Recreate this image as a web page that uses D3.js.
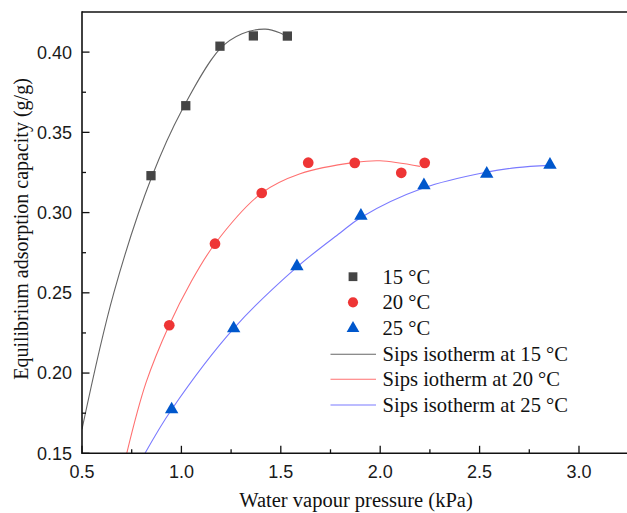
<!DOCTYPE html>
<html>
<head>
<meta charset="utf-8">
<script src="https://cdn.jsdelivr.net/npm/d3@7/dist/d3.min.js"></script>
<style>
  html, body { margin: 0; padding: 0; background: #fff; }
  svg { display: block; }
</style>
</head>
<body>
<svg id="chart" width="627" height="513"></svg>
<script>
// Measured uptake (x: kPa, y: g/g)
const pressure15 = [0.847, 1.022, 1.194, 1.362, 1.533];
const uptake15   = [0.323, 0.3666, 0.4037, 0.4101, 0.410];
const pressure20 = [0.939, 1.169, 1.404, 1.638, 1.872, 2.106, 2.224];
const uptake20   = [0.2298, 0.2806, 0.3122, 0.3311, 0.331, 0.3248, 0.331];
const pressure25 = [0.951, 1.263, 1.581, 1.903, 2.22, 2.536, 2.854];
const uptake25   = [0.1773, 0.2278, 0.2665, 0.298, 0.317, 0.3242, 0.3298];

// Fitted Sips curves, sampled along each line
const fitP15 = [0.5, 0.66, 0.852, 1.003, 1.194, 1.305, 1.422, 1.5, 1.548];
const fitQ15 = [0.165, 0.25, 0.3226, 0.364, 0.402, 0.4114, 0.4143, 0.4118, 0.4087];
const fitP20 = [0.725, 0.822, 0.939, 1.045, 1.169, 1.404, 1.597, 1.873, 1.999, 2.2];
const fitQ20 = [0.15, 0.194, 0.23, 0.256, 0.2806, 0.3122, 0.3242, 0.3313, 0.3323, 0.3288];
const fitP25 = [0.817, 0.951, 1.265, 1.581, 1.798, 1.903, 2.217, 2.536, 2.686, 2.853];
const fitQ25 = [0.15, 0.1773, 0.228, 0.266, 0.2873, 0.297, 0.3153, 0.3252, 0.328, 0.3294];

const xTicks = [0.5, 1.0, 1.5, 2.0, 2.5, 3.0];
const xMinor = [0.75, 1.25, 1.75, 2.25, 2.75];
const yTicks = [0.15, 0.20, 0.25, 0.30, 0.35, 0.40];
const yMinor = [0.175, 0.225, 0.275, 0.325, 0.375];

const seriesNames = ["15 °C", "20 °C", "25 °C"];
const fitNames = ["Sips isotherm at 15 °C", "Sips iotherm at 20 °C", "Sips isotherm at 25 °C"];

const svg = d3.select("#chart");
const L = 82, R = 627, T = 12, B = 453.3;

const x = d3.scaleLinear().domain([0.5, 3.2415]).range([L, R]);
const y = d3.scaleLinear().domain([0.15, 0.425]).range([B, T]);

svg.append("defs").append("clipPath").attr("id", "plotClip")
  .append("rect").attr("x", L).attr("y", T).attr("width", R - L).attr("height", B - T);

const serif = "'Liberation Serif', 'Times New Roman', serif";
const sans = "'Liberation Sans', Arial, sans-serif";

// Fitted curves
const line = d3.line().x(d => x(d[0])).y(d => y(d[1])).curve(d3.curveCatmullRom.alpha(0.5));
const fits = [
  { p: fitP15, q: fitQ15, color: "#666666" },
  { p: fitP20, q: fitQ20, color: "#ff7070" },
  { p: fitP25, q: fitQ25, color: "#7a7aff" }
];
const curves = svg.append("g").attr("clip-path", "url(#plotClip)");
fits.forEach(f => {
  curves.append("path")
    .attr("d", line(f.p.map((v, i) => [v, f.q[i]])))
    .attr("fill", "none").attr("stroke", f.color).attr("stroke-width", 1.1);
});

// Markers
const markerStyles = [
  { type: d3.symbolSquare, size: 86, fill: "#454545" },
  { type: d3.symbolCircle, size: 90, fill: "#ee3535" },
  { type: d3.symbolTriangle, size: 78, fill: "#0057cc" }
];
const series = [
  { p: pressure15, q: uptake15 },
  { p: pressure20, q: uptake20 },
  { p: pressure25, q: uptake25 }
];
const pts = svg.append("g");
series.forEach((s, k) => {
  const m = markerStyles[k];
  pts.selectAll(null).data(s.p.map((v, i) => [v, s.q[i]])).enter()
    .append("path")
    .attr("d", d3.symbol().type(m.type).size(m.size)())
    .attr("transform", d => `translate(${x(d[0])},${y(d[1])})`)
    .attr("fill", m.fill);
});

// Axes with inward ticks
const ax = svg.append("g").attr("stroke", "#111");
ax.append("line").attr("x1", L).attr("x2", R).attr("y1", B).attr("y2", B).attr("stroke-width", 1.6);
ax.append("line").attr("x1", L).attr("x2", R).attr("y1", T).attr("y2", T).attr("stroke-width", 1.6);
ax.append("line").attr("x1", L).attr("x2", L).attr("y1", T - 0.8).attr("y2", B + 0.8).attr("stroke-width", 1.6);

xTicks.forEach(v => ax.append("line").attr("x1", x(v)).attr("x2", x(v)).attr("y1", B).attr("y2", B - 7.5).attr("stroke-width", 1.3));
xMinor.forEach(v => ax.append("line").attr("x1", x(v)).attr("x2", x(v)).attr("y1", B).attr("y2", B - 4).attr("stroke-width", 1.3));
yTicks.forEach(v => ax.append("line").attr("x1", L).attr("x2", L + 7.5).attr("y1", y(v)).attr("y2", y(v)).attr("stroke-width", 1.3));
yMinor.forEach(v => ax.append("line").attr("x1", L).attr("x2", L + 4).attr("y1", y(v)).attr("y2", y(v)).attr("stroke-width", 1.3));

svg.append("g").selectAll("text").data(xTicks).enter().append("text")
  .attr("x", d => x(d)).attr("y", 478)
  .attr("text-anchor", "middle")
  .attr("font-family", sans).attr("font-size", 18).attr("fill", "#1a1a1a")
  .text(d => d.toFixed(1));

svg.append("g").selectAll("text").data(yTicks).enter().append("text")
  .attr("x", 72).attr("y", d => y(d) + 6.4)
  .attr("text-anchor", "end")
  .attr("font-family", sans).attr("font-size", 18).attr("fill", "#1a1a1a")
  .text(d => d.toFixed(2));

// Axis titles
svg.append("text")
  .attr("x", 356).attr("y", 507)
  .attr("text-anchor", "middle")
  .attr("font-family", serif).attr("font-size", 20.5).attr("fill", "#111")
  .text("Water vapour pressure (kPa)");

svg.append("text")
  .attr("transform", "translate(28,229) rotate(-90)")
  .attr("text-anchor", "middle")
  .attr("font-family", serif).attr("font-size", 20).attr("fill", "#111")
  .text("Equilibrium adsorption capacity (g/g)");

// Legend
const lg = svg.append("g");
const rowY = [276.7, 302.3, 328.3, 354.3, 379.3, 405];
const textX = 382.5;
seriesNames.forEach((name, k) => {
  const m = markerStyles[k];
  lg.append("path")
    .attr("d", d3.symbol().type(m.type).size(m.size * 0.9)())
    .attr("transform", `translate(353,${rowY[k]})`)
    .attr("fill", m.fill);
  lg.append("text").attr("x", textX).attr("y", rowY[k] + 7)
    .attr("font-family", serif).attr("font-size", 20.6).attr("fill", "#111")
    .text(name);
});
fitNames.forEach((name, k) => {
  const yy = rowY[k + 3];
  lg.append("line").attr("x1", 330.5).attr("x2", 376).attr("y1", yy).attr("y2", yy)
    .attr("stroke", fits[k].color).attr("stroke-width", 1.1);
  lg.append("text").attr("x", textX).attr("y", yy + 7)
    .attr("font-family", serif).attr("font-size", 20.6).attr("fill", "#111")
    .text(name);
});
</script>
</body>
</html>
